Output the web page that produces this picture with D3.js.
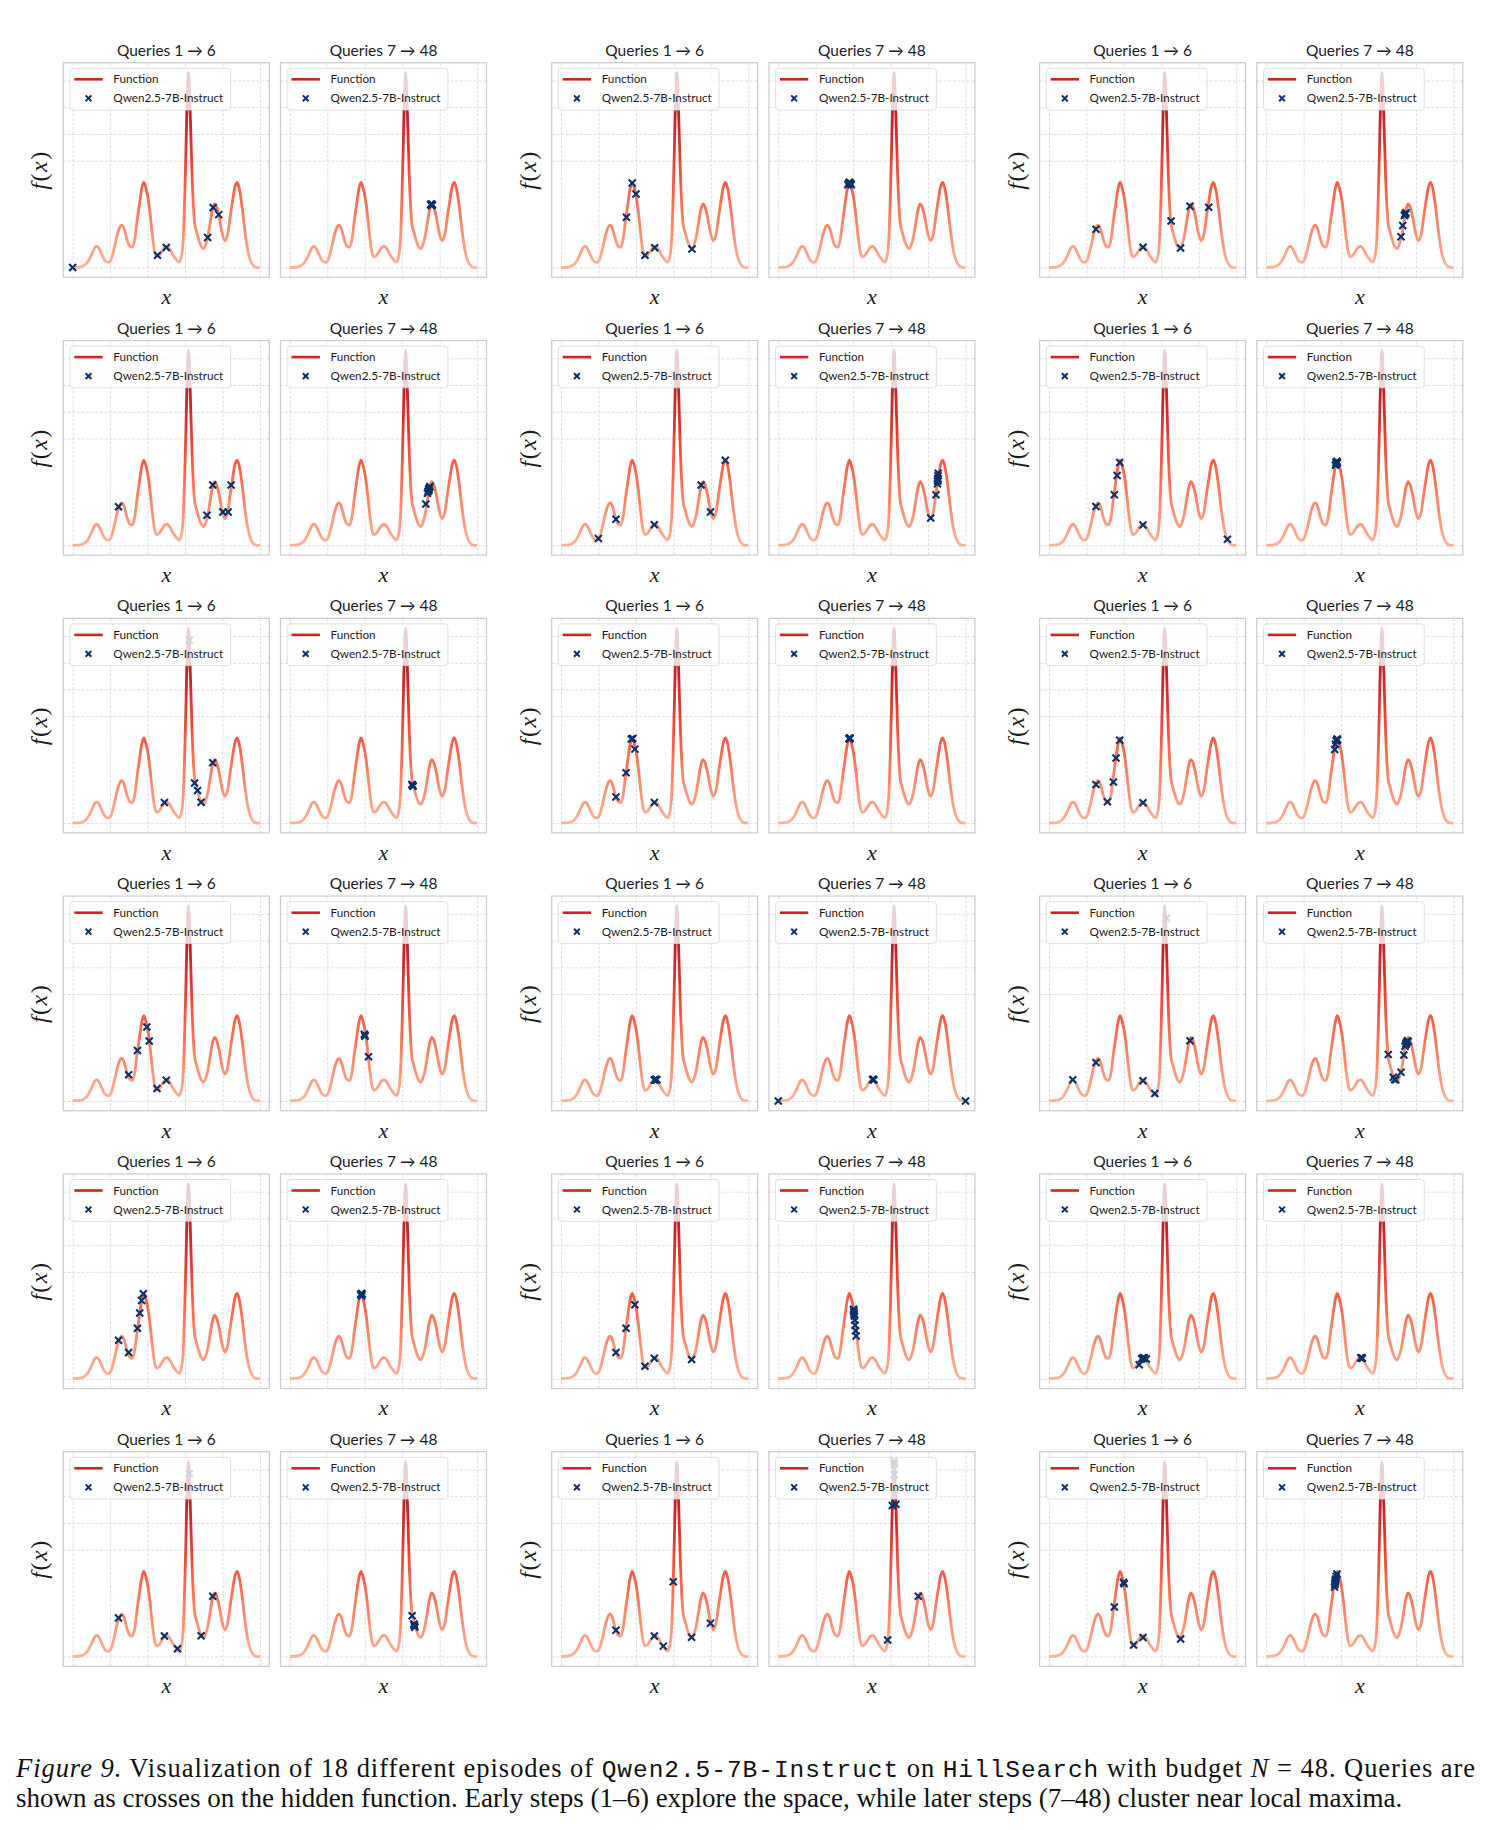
<!DOCTYPE html>
<html>
<head>
<meta charset="utf-8">
<script src="https://cdn.jsdelivr.net/npm/d3@7"></script>
<style>
  body { margin: 0; background: #fff; }
  svg { display: block; }
</style>
</head>
<body>
<svg id="fig"></svg>
<script>
// --- Datos ---
// la función oculta
const funcX = [0.000, 0.040, 0.070, 0.090, 0.105, 0.118, 0.128, 0.140, 0.155, 0.170,
  0.190, 0.205, 0.222, 0.238, 0.250, 0.262, 0.275, 0.290, 0.305, 0.318,
  0.330, 0.345, 0.358, 0.368, 0.380, 0.392, 0.402, 0.412, 0.425, 0.437,
  0.448, 0.462, 0.478, 0.492, 0.505, 0.520, 0.535, 0.550, 0.568, 0.580,
  0.590, 0.599, 0.605, 0.610, 0.6185, 0.628, 0.633, 0.638, 0.645, 0.652,
  0.660, 0.667, 0.675, 0.686, 0.698, 0.710, 0.722, 0.735, 0.745, 0.758,
  0.768, 0.782, 0.797, 0.812, 0.828, 0.842, 0.855, 0.866, 0.878, 0.890,
  0.905, 0.920, 0.935, 0.950, 0.965, 0.980, 1.000];
const funcF = [0.00, 0.02, 0.12, 0.32, 0.55, 0.74, 0.79, 0.72, 0.50, 0.28,
  0.19, 0.30, 0.72, 1.22, 1.48, 1.59, 1.45, 1.05, 0.80, 0.76,
  1.00, 1.80, 2.45, 2.92, 3.19, 2.95, 2.62, 2.10, 1.25, 0.62,
  0.40, 0.45, 0.62, 0.76, 0.79, 0.68, 0.48, 0.33, 0.20, 0.38,
  1.00, 2.80, 4.40, 5.90, 7.30, 5.70, 4.50, 3.35, 2.25, 1.62,
  1.38, 1.20, 1.00, 0.80, 0.70, 0.84, 1.15, 1.70, 2.12, 2.38,
  2.28, 1.90, 1.32, 1.00, 1.25, 1.95, 2.55, 3.00, 3.19, 2.95,
  2.25, 1.35, 0.65, 0.25, 0.07, 0.01, 0.00];

const xTicks = [0, 0.2, 0.4, 0.6, 0.8, 1.0];
const yTicks = [0, 4, 5, 6, 7];

const titles = ["Queries 1 \u2192 6", "Queries 7 \u2192 48"];
const legendLabels = ["Function", "Qwen2.5-7B-Instruct"];

// consultas [x, f(x)] por episodio (orden: fila por fila)
const early = [
  [[0, 0], [0.453, 0.46], [0.5, 0.75], [0.721, 1.12], [0.75, 2.25], [0.78, 1.98]],
  [[0.349, 1.88], [0.38, 3.16], [0.4, 2.75], [0.448, 0.46], [0.5, 0.74], [0.699, 0.69]],
  [[0.251, 1.43], [0.502, 0.76], [0.652, 1.74], [0.703, 0.73], [0.753, 2.29], [0.853, 2.26]],
  [[0.245, 1.44], [0.717, 1.13], [0.748, 2.26], [0.802, 1.25], [0.83, 1.25], [0.846, 2.26]],
  [[0.199, 0.26], [0.293, 0.98], [0.498, 0.77], [0.748, 2.26], [0.798, 1.25], [0.877, 3.18]],
  [[0.251, 1.45], [0.349, 1.89], [0.364, 2.61], [0.378, 3.1], [0.502, 0.76], [0.953, 0.23]],
  [[0.49, 0.77], [0.623, 6.84], [0.651, 1.5], [0.667, 1.22], [0.686, 0.78], [0.748, 2.26]],
  [[0.293, 0.98], [0.347, 1.89], [0.375, 3.15], [0.383, 3.17], [0.394, 2.77], [0.498, 0.77]],
  [[0.251, 1.45], [0.312, 0.8], [0.344, 1.54], [0.358, 2.44], [0.378, 3.1], [0.502, 0.76]],
  [[0.299, 0.98], [0.346, 1.89], [0.396, 2.77], [0.409, 2.24], [0.45, 0.47], [0.5, 0.77]],
  [[0.498, 0.78], [0.502, 0.79], [0.505, 0.8], [0.508, 0.79], [0.511, 0.79], [0.506, 0.8]],
  [[0.127, 0.79], [0.251, 1.44], [0.502, 0.76], [0.565, 0.28], [0.627, 6.84], [0.753, 2.25]],
  [[0.245, 1.44], [0.299, 0.98], [0.346, 1.89], [0.358, 2.46], [0.368, 2.93], [0.377, 3.18]],
  [[0.293, 0.98], [0.347, 1.89], [0.394, 2.77], [0.448, 0.47], [0.498, 0.77], [0.697, 0.72]],
  [[0.482, 0.52], [0.495, 0.75], [0.5, 0.77], [0.505, 0.79], [0.51, 0.78], [0.52, 0.74]],
  [[0.245, 1.44], [0.49, 0.77], [0.56, 0.29], [0.623, 6.84], [0.686, 0.78], [0.748, 2.26]],
  [[0.293, 0.98], [0.498, 0.77], [0.546, 0.39], [0.599, 2.8], [0.697, 0.72], [0.798, 1.25]],
  [[0.349, 1.85], [0.398, 2.78], [0.402, 2.72], [0.452, 0.43], [0.502, 0.71], [0.703, 0.66]]
];
const late = [
  [[0.752, 2.36], [0.755, 2.38], [0.758, 2.37], [0.761, 2.34], [0.756, 2.32]],
  [[0.372, 3.1], [0.376, 3.15], [0.38, 3.19], [0.386, 3.15], [0.39, 3.1]],
  [[0.72, 1.15], [0.729, 1.57], [0.738, 1.95], [0.742, 2.0], [0.746, 2.05], [0.744, 2.0]],
  [[0.726, 1.55], [0.735, 1.95], [0.738, 2.02], [0.741, 2.1], [0.745, 2.15], [0.748, 2.2], [0.743, 2.05]],
  [[0.814, 1.02], [0.842, 1.89], [0.85, 2.3], [0.851, 2.4], [0.852, 2.5], [0.853, 2.6], [0.854, 2.7], [0.852, 2.45]],
  [[0.37, 3.0], [0.373, 3.1], [0.377, 3.15], [0.38, 3.1], [0.375, 3.05]],
  [[0.652, 1.45], [0.655, 1.42], [0.658, 1.38], [0.656, 1.4]],
  [[0.378, 3.17], [0.381, 3.19], [0.384, 3.18], [0.38, 3.15]],
  [[0.366, 2.76], [0.37, 2.95], [0.374, 3.08], [0.378, 3.15], [0.382, 3.12], [0.376, 3.1]],
  [[0.398, 2.5], [0.4, 2.46], [0.401, 2.42], [0.42, 1.65]],
  [[0, 0], [1, 0], [0.503, 0.8], [0.507, 0.8], [0.511, 0.79]],
  [[0.652, 1.74], [0.679, 0.89], [0.686, 0.8], [0.692, 0.79], [0.72, 1.07], [0.735, 1.72],
   [0.742, 2.05], [0.746, 2.12], [0.75, 2.2], [0.754, 2.25], [0.758, 2.22], [0.748, 2.15]],
  [[0.378, 3.15], [0.382, 3.19], [0.386, 3.17], [0.383, 3.1]],
  [[0.402, 2.6], [0.403, 2.55], [0.404, 2.5], [0.405, 2.42], [0.406, 2.35], [0.408, 2.2],
   [0.41, 2.0], [0.413, 1.8], [0.416, 1.6]],
  [[0.505, 0.79], [0.51, 0.78], [0.514, 0.77], [0.508, 0.78]],
  [[0.653, 1.53], [0.662, 1.22], [0.665, 1.15], [0.667, 1.1], [0.664, 1.18]],
  [[0.584, 0.62], [0.609, 5.65], [0.628, 5.7], [0.618, 7.3], [0.62, 7.2], [0.619, 6.8], [0.748, 2.26]],
  [[0.365, 2.6], [0.367, 2.7], [0.369, 2.8], [0.371, 2.9], [0.374, 3.0], [0.378, 3.09], [0.37, 2.85], [0.368, 2.75]]
];

// --- Configuración ---
const W = 1491, H = 1830;
const axW = 206, axH = 214.6;
const groupX = [63.3, 551.7, 1039.6];
const pairDx = 217.2;
const rowY0 = 62.7, rowDy = 277.8;

const uiFont = "Lato, 'DejaVu Sans', sans-serif";
const mathFont = "'Liberation Serif', 'DejaVu Serif', serif";
const markColor = "#08306b";

const svg = d3.select("#fig").attr("width", W).attr("height", H);
svg.append("rect").attr("width", W).attr("height", H).attr("fill", "#fff");

const fMax = d3.max(funcF);
const x = d3.scaleLinear().domain([-0.05, 1.05]).range([0, axW]);
const y = d3.scaleLinear().domain([-0.05 * fMax, 1.05 * fMax]).range([axH, 0]);

// degradado vertical según f(x) (colormap Reds)
const grad = svg.append("defs").append("linearGradient")
  .attr("id", "fgrad")
  .attr("gradientUnits", "userSpaceOnUse")
  .attr("x1", 0).attr("x2", 0)
  .attr("y1", y(0)).attr("y2", y(fMax));
d3.range(0, 1.0001, 0.1).forEach(t => {
  grad.append("stop").attr("offset", t).attr("stop-color", d3.interpolateReds(0.29 + 0.64 * t));
});

const funcPts = funcX.map((d, i) => [d, funcF[i]]);
const line = d3.line().x(d => x(d[0])).y(d => y(d[1])).curve(d3.curveMonotoneX);

const cross = s => `M${-s},${-s}L${s},${s}M${-s},${s}L${s},${-s}`;

function drawPanel(g, pts, title, showYLabel) {
  // rejilla
  const gx = g.append("g").attr("transform", `translate(0,${axH})`)
    .call(d3.axisBottom(x).tickValues(xTicks).tickSize(-axH).tickFormat(""));
  const gy = g.append("g")
    .call(d3.axisLeft(y).tickValues(yTicks).tickSize(-axW).tickFormat(""));
  [gx, gy].forEach(a => {
    a.select(".domain").remove();
    a.selectAll(".tick line")
      .attr("stroke", "#d4d4d4")
      .attr("stroke-width", 0.8)
      .attr("stroke-dasharray", "3,1.6");
  });

  // función
  g.append("path")
    .datum(funcPts)
    .attr("d", line)
    .attr("fill", "none")
    .attr("stroke", "url(#fgrad)")
    .attr("stroke-width", 2.8)
    .attr("stroke-linejoin", "round")
    .attr("stroke-opacity", 0.95);

  // consultas
  g.selectAll(".q").data(pts).join("path")
    .attr("class", "q")
    .attr("transform", d => `translate(${x(d[0])},${y(d[1])})`)
    .attr("d", cross(3.5))
    .attr("stroke", markColor)
    .attr("stroke-width", 2.1)
    .attr("fill", "none");

  // leyenda
  const lg = g.append("g").attr("transform", "translate(6.7,5.6)");
  lg.append("rect")
    .attr("width", 160.7).attr("height", 41.7)
    .attr("rx", 3)
    .attr("fill", "#fff").attr("fill-opacity", 0.8)
    .attr("stroke", "#d6d6d6").attr("stroke-width", 0.8);
  lg.append("line")
    .attr("x1", 4.3).attr("x2", 32.7).attr("y1", 11).attr("y2", 11)
    .attr("stroke", "#d42020").attr("stroke-width", 2.6);
  lg.append("path")
    .attr("transform", "translate(18.5,30)")
    .attr("d", cross(2.9))
    .attr("stroke", markColor).attr("stroke-width", 2);
  lg.selectAll("text").data(legendLabels).join("text")
    .attr("x", 43.3)
    .attr("y", (d, i) => 15 + i * 19)
    .attr("font-family", uiFont)
    .attr("font-size", 11.7)
    .attr("fill", "#1a1a1a")
    .text(d => d);

  // marco
  g.append("rect")
    .attr("width", axW).attr("height", axH)
    .attr("fill", "none")
    .attr("stroke", "#cccccc").attr("stroke-width", 1.25);

  // título y etiquetas
  g.append("text")
    .attr("x", axW / 2).attr("y", -7)
    .attr("text-anchor", "middle")
    .attr("font-family", uiFont)
    .attr("font-size", 15.5)
    .attr("fill", "#1a1a1a")
    .text(title);

  g.append("text")
    .attr("x", axW / 2).attr("y", axH + 27)
    .attr("text-anchor", "middle")
    .attr("font-family", mathFont)
    .attr("font-style", "italic")
    .attr("font-size", 22)
    .attr("fill", "#1a1a1a")
    .text("x");

  if (showYLabel) {
    const t = g.append("text")
      .attr("transform", `translate(-16,${axH / 2}) rotate(-90)`)
      .attr("text-anchor", "middle")
      .attr("font-family", mathFont)
      .attr("font-size", 24)
      .attr("letter-spacing", 1.5)
      .attr("fill", "#1a1a1a");
    t.append("tspan").attr("font-style", "italic").text("f");
    t.append("tspan").text("(");
    t.append("tspan").attr("font-style", "italic").text("x");
    t.append("tspan").text(")");
  }
}

// --- Dibujar los 18 episodios ---
early.forEach((pts, e) => {
  const row = Math.floor(e / 3), col = e % 3;
  const top = rowY0 + row * rowDy;
  const left = groupX[col];
  drawPanel(svg.append("g").attr("transform", `translate(${left},${top})`), pts, titles[0], true);
  drawPanel(svg.append("g").attr("transform", `translate(${left + pairDx},${top})`), late[e], titles[1], false);
});

// --- Pie de figura ---
const capFont = "'Liberation Serif', 'Times New Roman', serif";
const monoFont = "'Liberation Mono', 'Courier New', monospace";
const cap1 = svg.append("text")
  .attr("x", 16).attr("y", 1777)
  .attr("font-family", capFont).attr("font-size", 26.5)
  .attr("fill", "#111")
  .attr("textLength", 1459).attr("lengthAdjust", "spacing");
cap1.append("tspan").attr("font-style", "italic").text("Figure 9.");
cap1.append("tspan").text(" Visualization of 18 different episodes of ");
cap1.append("tspan").attr("font-family", monoFont).attr("font-size", 24.5).text("Qwen2.5-7B-Instruct");
cap1.append("tspan").text(" on ");
cap1.append("tspan").attr("font-family", monoFont).attr("font-size", 24.5).text("HillSearch");
cap1.append("tspan").text(" with budget ");
cap1.append("tspan").attr("font-style", "italic").text("N");
cap1.append("tspan").text(" = 48. Queries are");

svg.append("text")
  .attr("x", 16).attr("y", 1807)
  .attr("font-family", capFont).attr("font-size", 27)
  .attr("fill", "#111")
  .text("shown as crosses on the hidden function. Early steps (1\u20136) explore the space, while later steps (7\u201348) cluster near local maxima.");
</script>
</body>
</html>
